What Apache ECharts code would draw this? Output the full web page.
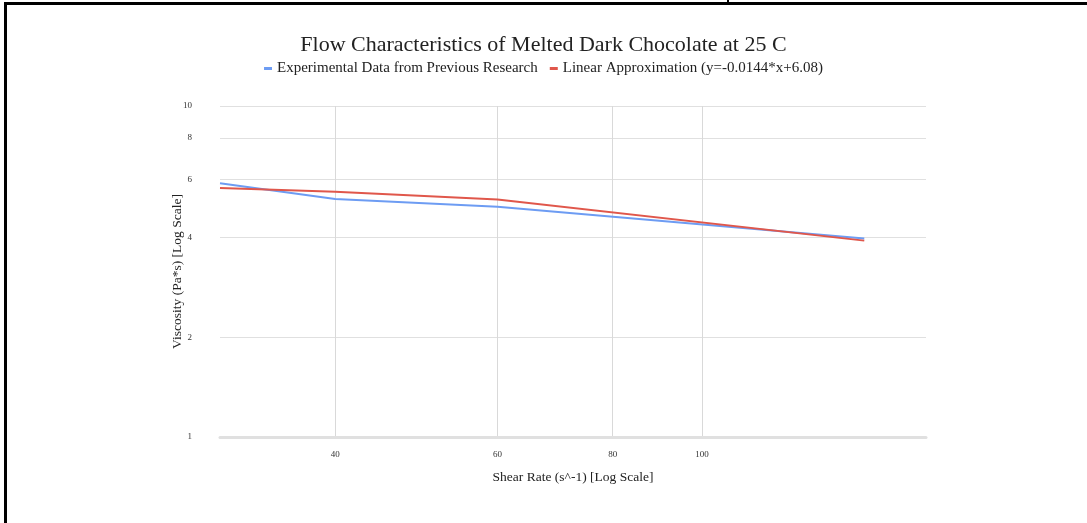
<!DOCTYPE html>
<html>
<head>
<meta charset="utf-8">
<script src="https://cdn.jsdelivr.net/npm/echarts@6/dist/echarts.min.js"></script>
<style>
    html, body {margin: 0; padding: 0; background: #fff;}
    #chart {width: 1087px; height: 523px;}
    .frame {position: absolute; left: 4px; top: 2px; width: 1083px; height: 521px;
        border-top: 3px solid #000; border-left: 3px solid #000; pointer-events: none;}
    .notch {position: absolute; left: 727px; top: 0; width: 2px; height: 4px; background: #000;}
</style>
</head>
<body>
<div id="chart"></div>
<div class="frame"></div>
<div class="notch"></div>
<script>
    // 剪切速率 (s^-1)
    var shearRate = [30, 40, 60, 150];
    // 实验数据 (Pa*s)
    var experimental = [5.84, 5.24, 4.96, 3.98];
    // 线性近似 y=-0.0144*x+6.08
    var linearApprox = [5.648, 5.504, 5.216, 3.92];
    var xTicks = [40, 60, 80, 100];
    var yTicks = [1, 2, 4, 6, 8, 10];

    var serif = '"Liberation Serif", "DejaVu Serif", serif';

    function pairs(xs, ys) {
        return xs.map(function (x, i) {
            return [x, ys[i]];
        });
    }

    var myChart = echarts.init(document.getElementById('chart'));

    var option = {
        backgroundColor: '#fff',
        animation: false,
        title: {
            text: 'Flow Characteristics of Melted Dark Chocolate at 25 C',
            left: 'center',
            top: 29,
            textStyle: {fontFamily: serif, fontSize: 22, fontWeight: 'normal', color: '#222'}
        },
        legend: {
            top: 56,
            left: 'center',
            icon: 'rect',
            itemWidth: 8,
            itemHeight: 3,
            itemGap: 12,
            textStyle: {fontFamily: serif, fontSize: 15, color: '#222'},
            data: ['Experimental Data from Previous Research', 'Linear Approximation (y=-0.0144*x+6.08)']
        },
        grid: {left: 220, right: 161, top: 106, bottom: 86},
        xAxis: {
            type: 'log',
            logBase: 10,
            min: 30,
            max: 175,
            name: 'Shear Rate (s^-1) [Log Scale]',
            nameLocation: 'middle',
            nameGap: 33,
            nameTextStyle: {fontFamily: serif, fontSize: 13.5, color: '#222'},
            axisLine: {show: true, lineStyle: {color: '#e0e0e0', width: 3}},
            axisTick: {show: false, customValues: xTicks},
            axisLabel: {customValues: xTicks, fontFamily: serif, fontSize: 9, color: '#333', margin: 13},
            splitLine: {show: true, lineStyle: {color: '#d9d9d9', width: 1}},
            minorTick: {show: false},
            minorSplitLine: {show: false}
        },
        yAxis: {
            type: 'log',
            logBase: 10,
            min: 1,
            max: 10,
            name: 'Viscosity (Pa*s) [Log Scale]',
            nameLocation: 'middle',
            nameGap: 36,
            nameMoveOverlap: false,
            nameTextStyle: {fontFamily: serif, fontSize: 13.5, color: '#222'},
            axisLine: {show: false},
            axisTick: {show: false, customValues: yTicks},
            axisLabel: {customValues: yTicks, fontFamily: serif, fontSize: 9, color: '#333', margin: 28},
            splitLine: {show: true, lineStyle: {color: '#e0e0e0', width: 1}}
        },
        series: [
            {
                name: 'Experimental Data from Previous Research',
                type: 'line',
                data: pairs(shearRate, experimental),
                showSymbol: false,
                symbol: 'none',
                color: '#6d9cf3',
                lineStyle: {width: 2, color: '#6d9cf3'}
            },
            {
                name: 'Linear Approximation (y=-0.0144*x+6.08)',
                type: 'line',
                data: pairs(shearRate, linearApprox),
                showSymbol: false,
                symbol: 'none',
                color: '#e0574b',
                lineStyle: {width: 2, color: '#e0574b'}
            }
        ]
    };

    myChart.setOption(option);
</script>
</body>
</html>
